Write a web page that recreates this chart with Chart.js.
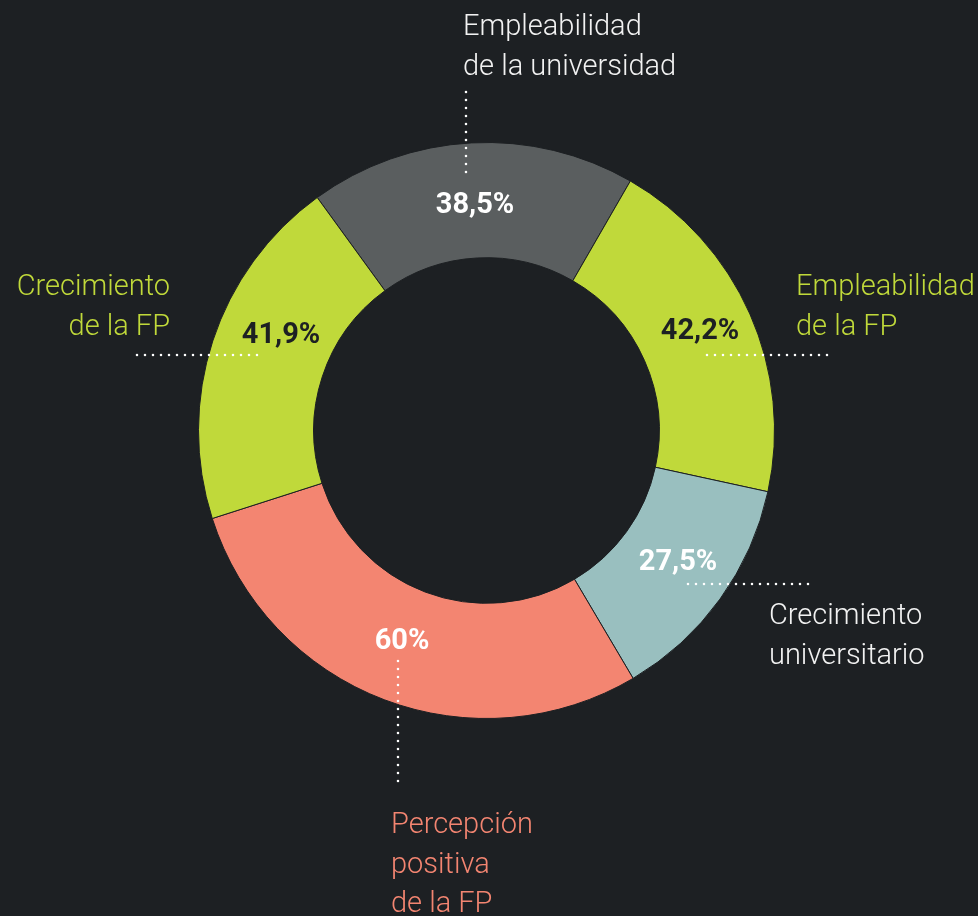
<!DOCTYPE html>
<html lang="es">
<head>
<meta charset="utf-8">
<title>Empleabilidad y crecimiento: FP y universidad</title>
<script src="https://cdn.jsdelivr.net/npm/chart.js@4.4.0/dist/chart.umd.min.js"></script>
<style>
  html, body { margin: 0; padding: 0; background: #1d2023; }
  canvas { display: block; }
</style>
</head>
<body>
<canvas id="donut" width="978" height="916"></canvas>
<script>
// slices, clockwise from the top
const categories = [
  'Empleabilidad de la universidad',
  'Empleabilidad de la FP',
  'Crecimiento universitario',
  'Percepción positiva de la FP',
  'Crecimiento de la FP'
];
const values = [38.5, 42.2, 27.5, 60, 41.9];
const captions = [
  ['Empleabilidad', 'de la universidad'],
  ['Empleabilidad', 'de la FP'],
  ['Crecimiento', 'universitario'],
  ['Percepción', 'positiva', 'de la FP'],
  ['Crecimiento', 'de la FP']
];

const BG = '#1d2023';
const sliceColors = ['#5a5e5f', '#c0d93a', '#99bfbf', '#f38571', '#c0d93a'];
const valueColors = ['#ffffff', '#1d2023', '#ffffff', '#ffffff', '#1d2023'];
const captionColors = ['#f2f2f2', '#c0d93a', '#f2f2f2', '#f38571', '#c0d93a'];

// where each value, leader and caption sits on the canvas
const placement = [
  { value: [475, 213], line: [[466, 92], [466, 178]], text: [463, 35], align: 'left' },
  { value: [700, 339], line: [[707, 355], [831, 355]], text: [796, 295], align: 'left' },
  { value: [678, 570], line: [[688, 584], [813, 584]], text: [769, 624], align: 'left' },
  { value: [402, 649], line: [[398, 661], [398, 785]], text: [391, 833], align: 'left' },
  { value: [281, 343], line: [[137, 355], [262, 355]], text: [170, 295], align: 'right' }
];

const fmt = v => v.toLocaleString('es-ES') + '%';

const annotations = {
  id: 'annotations',
  afterDatasetsDraw(chart) {
    const ctx = chart.ctx;
    ctx.save();

    // dotted leaders
    ctx.strokeStyle = '#ffffff';
    ctx.lineWidth = 2.6;
    ctx.lineCap = 'round';
    ctx.setLineDash([0, 8]);
    placement.forEach(p => {
      ctx.beginPath();
      ctx.moveTo(p.line[0][0], p.line[0][1]);
      ctx.lineTo(p.line[1][0], p.line[1][1]);
      ctx.stroke();
    });
    ctx.setLineDash([]);

    // percentages
    ctx.font = 'bold 29px Roboto';
    ctx.textAlign = 'center';
    ctx.textBaseline = 'alphabetic';
    values.forEach((v, i) => {
      ctx.fillStyle = valueColors[i];
      ctx.fillText(fmt(v), placement[i].value[0], placement[i].value[1]);
    });

    // captions
    ctx.font = '300 29px Roboto';
    captions.forEach((lines, i) => {
      const p = placement[i];
      ctx.fillStyle = captionColors[i];
      ctx.textAlign = p.align;
      lines.forEach((line, k) => {
        ctx.fillText(line, p.text[0], p.text[1] + k * 39.5);
      });
    });

    ctx.restore();
  }
};

new Chart(document.getElementById('donut'), {
  type: 'doughnut',
  data: {
    labels: categories,
    datasets: [{
      data: values,
      backgroundColor: sliceColors,
      borderColor: BG,
      borderWidth: 1
    }]
  },
  options: {
    responsive: false,
    animation: false,
    cutout: '60%',
    rotation: -36,
    layout: { padding: { left: 198, right: 203, top: 142, bottom: 197 } },
    plugins: {
      legend: { display: false },
      tooltip: { enabled: false }
    }
  },
  plugins: [annotations]
});
</script>
</body>
</html>
